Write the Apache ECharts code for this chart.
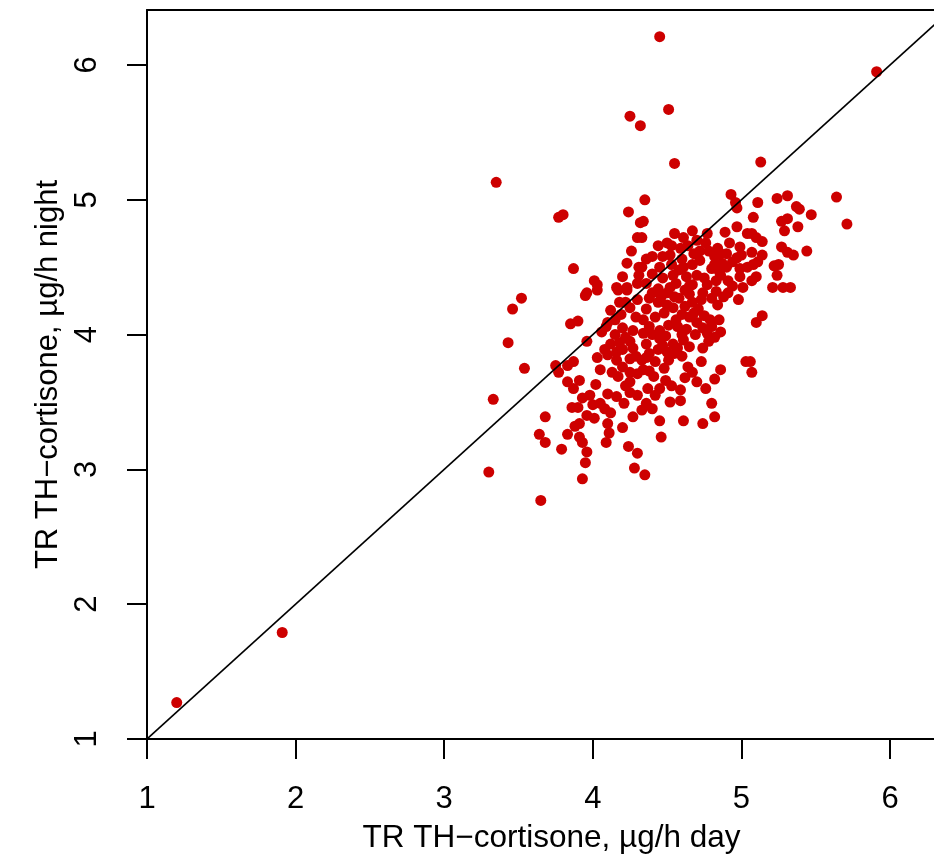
<!DOCTYPE html>
<html lang="en" style="height: 100%">

<head>
  <meta charset="utf-8" />
  <script src="https://cdn.jsdelivr.net/npm/echarts@6/dist/echarts.min.js"></script>
</head>

<body style="height: 100%; margin: 0; background: #fff">
  <div id="container" style="width: 934px; height: 855px"></div>

  <script type="text/javascript">
    // [day, night] pairs
    var outlierPts = [
      [1.20, 1.27], [1.91, 1.79], [3.30, 2.98], [3.65, 2.77], [3.33, 3.52], [3.35, 5.13],
      [3.52, 4.27], [3.46, 4.19], [3.43, 3.94], [3.54, 3.75], [4.45, 6.21], [4.25, 5.62],
      [4.32, 5.55], [4.51, 5.67], [4.55, 5.27], [5.13, 5.28], [5.91, 5.95]
    ];
    var upperPts = [
      [3.77, 4.87], [3.80, 4.89], [4.24, 4.91], [4.32, 4.83], [4.30, 4.72], [4.26, 4.62],
      [4.23, 4.53], [3.87, 4.49], [4.31, 4.50], [4.01, 4.40], [4.03, 4.37], [4.16, 4.35],
      [4.23, 4.35], [4.30, 4.38], [3.96, 4.31],
      [4.35, 5.00], [4.93, 5.04], [4.97, 4.94], [4.96, 4.98], [4.34, 4.84], [4.67, 4.77],
      [4.61, 4.72], [4.77, 4.75], [4.89, 4.76], [4.97, 4.80], [5.04, 4.75], [4.33, 4.72],
      [4.53, 4.66], [4.59, 4.64], [4.72, 4.62], [4.84, 4.64], [4.92, 4.68], [4.99, 4.65],
      [4.47, 4.58], [4.52, 4.59], [4.33, 4.50], [4.45, 4.50], [4.61, 4.50], [4.67, 4.52],
      [4.80, 4.49], [4.87, 4.53], [4.94, 4.54], [5.04, 4.50], [4.54, 4.44], [4.63, 4.43],
      [4.70, 4.44], [4.75, 4.42], [4.86, 4.44], [4.91, 4.40], [4.99, 4.43], [4.36, 4.38],
      [4.52, 4.35], [4.67, 4.37], [4.77, 4.37], [5.01, 4.35]
    ];
    var rightPts = [
      [5.11, 4.98], [5.24, 5.01], [5.31, 5.03], [5.64, 5.02], [5.37, 4.95], [5.39, 4.93],
      [5.47, 4.89], [5.08, 4.87], [5.27, 4.84], [5.31, 4.86], [5.71, 4.82], [5.29, 4.77],
      [5.38, 4.80], [5.07, 4.75], [5.10, 4.72], [5.14, 4.69], [5.27, 4.65], [5.31, 4.61],
      [5.35, 4.59], [5.44, 4.62], [5.14, 4.59], [5.07, 4.61], [5.08, 4.52], [5.11, 4.54],
      [5.22, 4.51], [5.25, 4.52], [5.24, 4.44], [5.10, 4.43], [5.07, 4.40], [5.21, 4.35],
      [5.28, 4.35], [5.33, 4.35], [5.14, 4.14], [5.10, 4.09], [5.07, 3.72], [5.06, 3.80]
    ];
    var leftPts = [
      [3.95, 4.29], [4.03, 4.33], [4.17, 4.33], [4.23, 4.33], [3.85, 4.08], [3.90, 4.10],
      [3.96, 3.95], [4.10, 4.09], [4.15, 4.11], [4.20, 4.05], [4.09, 4.06], [4.22, 4.24],
      [4.25, 4.20], [4.30, 4.26], [4.19, 4.15], [4.27, 4.03], [4.18, 3.94], [4.25, 3.95],
      [4.08, 3.89], [4.10, 3.85], [4.16, 3.87], [4.20, 3.89], [4.27, 3.90], [4.16, 3.81],
      [4.25, 3.82], [4.20, 3.76], [4.05, 3.74], [4.13, 3.72], [4.17, 3.69], [4.25, 3.72],
      [4.30, 3.71], [4.25, 3.65], [3.75, 3.77], [3.77, 3.72], [3.83, 3.77], [3.87, 3.80],
      [3.83, 3.65], [3.87, 3.60], [3.91, 3.66], [4.02, 3.63], [4.10, 3.56], [4.16, 3.54],
      [4.25, 3.57]
    ];
    var lowerPts = [
      [3.86, 3.46], [3.90, 3.46], [4.00, 3.48], [4.05, 3.49], [4.21, 3.49], [3.68, 3.39],
      [3.96, 3.40], [4.01, 3.38], [3.88, 3.32], [3.91, 3.34], [4.10, 3.34], [4.27, 3.39],
      [3.64, 3.26], [3.68, 3.20], [3.83, 3.26], [3.91, 3.24], [3.93, 3.20], [4.11, 3.27],
      [4.09, 3.20], [4.20, 3.31], [3.79, 3.15], [3.96, 3.13], [3.95, 3.05], [4.24, 3.17],
      [4.30, 3.12], [4.28, 3.01], [3.93, 2.93],
      [4.36, 3.49], [4.33, 3.44], [4.45, 3.36], [4.61, 3.36], [4.74, 3.34], [4.82, 3.39],
      [4.80, 3.49], [4.46, 3.24], [4.35, 2.96], [4.59, 3.51]
    ];
    var corePts = [
      [5.03, 3.80], [4.86, 3.74], [4.82, 3.67], [4.76, 3.60], [4.73, 3.80], [4.67, 3.72],
      [4.64, 3.76], [4.59, 3.59], [4.49, 3.66], [4.45, 3.60], [4.37, 3.60], [4.34, 3.74],
      [4.38, 3.73], [4.33, 3.81], [4.42, 3.80], [4.51, 3.81], [4.74, 3.90], [4.65, 3.91],
      [4.61, 3.96], [4.54, 3.93], [4.44, 3.89], [4.36, 3.93], [4.34, 4.01], [4.40, 4.00],
      [4.45, 4.03], [4.51, 4.07], [4.57, 4.06], [4.63, 4.04], [4.69, 4.00], [4.77, 4.01],
      [4.86, 4.02], [4.80, 4.06], [4.79, 4.11], [4.84, 4.22], [4.85, 4.11], [4.65, 4.13],
      [4.60, 4.15], [4.54, 4.20], [4.67, 4.24], [4.71, 4.19], [4.34, 4.11], [4.36, 4.19],
      [4.42, 4.13], [4.50, 4.22], [4.40, 4.31], [4.50, 4.31], [4.65, 4.30], [4.74, 4.31],
      [4.83, 4.32], [4.91, 4.31], [4.98, 4.26], [4.70, 4.09], [4.45, 3.97],
      [4.38, 4.27], [4.44, 4.24], [4.48, 4.16], [4.56, 4.11], [4.58, 4.27], [4.62, 4.21],
      [4.68, 4.16], [4.75, 4.14], [4.73, 4.26], [4.80, 4.27], [4.88, 4.28], [4.94, 4.36],
      [4.56, 4.38], [4.47, 4.42], [4.40, 4.45], [4.60, 4.56], [4.72, 4.55], [4.82, 4.58],
      [4.90, 4.60], [4.97, 4.57], [4.76, 4.68], [4.70, 4.70], [4.55, 4.75], [4.44, 4.66],
      [4.38, 4.06], [4.49, 3.99], [4.55, 3.86], [4.60, 3.84], [4.48, 3.75], [4.41, 3.69],
      [4.70, 3.65], [4.29, 3.84], [4.38, 3.86], [4.65, 4.36], [4.83, 4.40], [4.44, 4.34],
      [4.29, 4.13], [4.31, 4.44], [4.20, 4.43], [4.15, 4.00], [3.93, 3.53], [4.12, 3.42],
      [4.40, 3.45], [4.52, 3.50], [4.85, 4.47], [4.99, 4.49], [5.00, 4.59], [4.53, 4.52]
    ];
    var extraPts = [
      [4.12, 4.18], [4.06, 4.02], [4.22, 3.98], [4.12, 3.93], [4.03, 3.83], [4.22, 3.62],
      [4.30, 3.55], [4.08, 3.45], [3.98, 3.55], [4.42, 3.55], [4.53, 3.62], [4.62, 3.68],
      [4.57, 3.90], [4.47, 3.92], [4.60, 4.00], [4.74, 4.05], [4.55, 4.28], [4.62, 4.33],
      [4.46, 4.28], [4.58, 4.48], [4.68, 4.60], [4.78, 4.62], [4.86, 4.60], [4.40, 4.58],
      [4.50, 4.68], [4.64, 4.66], [4.82, 4.52], [4.90, 4.50], [4.36, 4.56], [4.18, 4.24],
      [4.36, 3.83], [4.50, 3.87], [4.78, 3.95], [4.82, 3.98]
    ];
    var tickVals = [1, 2, 3, 4, 5, 6];
    var identityLine = [[0.5, 0.5], [7, 7]];

    var allPts = [].concat(outlierPts, upperPts, rightPts, leftPts, lowerPts, corePts, extraPts);

    var dom = document.getElementById("container");
    var myChart = echarts.init(dom, null, { renderer: "canvas" });

    var font = "'Liberation Sans', Arial, sans-serif";
    var axisLineStyle = { color: "#000", width: 2 };
    // plot region is cut off on the right, so the x range runs past 6
    var xMax = 6.296;
    var yMax = 6.408;

    var option = {
      animation: false,
      backgroundColor: "#fff",
      grid: { left: 147, top: 10, right: 0, bottom: 116, outerBoundsMode: "none" },
      xAxis: [
        {
          type: "value",
          min: 1,
          max: xMax,
          interval: 1,
          splitLine: { show: false },
          axisLine: { show: true, onZero: false, lineStyle: axisLineStyle },
          axisTick: { show: true, length: 20, customValues: tickVals, lineStyle: axisLineStyle },
          axisLabel: {
            customValues: tickVals,
            margin: 45,
            color: "#000",
            fontSize: 31,
            fontFamily: font,
          },
          name: "TR TH\u2212cortisone, \u00b5g/h day",
          nameLocation: "middle",
          nameGap: 83,
          nameTextStyle: { color: "#000", fontSize: 31.5, fontFamily: font, padding: [0, 0, 0, 22] },
        },
        {
          type: "value",
          position: "top",
          min: 1,
          max: xMax,
          axisLine: { show: true, onZero: false, lineStyle: axisLineStyle },
          axisTick: { show: false },
          axisLabel: { show: false },
          splitLine: { show: false },
        },
      ],
      yAxis: {
        type: "value",
        min: 1,
        max: yMax,
        interval: 1,
        splitLine: { show: false },
        axisLine: { show: true, onZero: false, lineStyle: axisLineStyle },
        axisTick: { show: true, length: 20, customValues: tickVals, lineStyle: axisLineStyle },
        axisLabel: {
          customValues: tickVals,
          rotate: 90,
          margin: 44,
          color: "#000",
          fontSize: 31,
          fontFamily: font,
        },
        name: "TR TH\u2212cortisone, \u00b5g/h night",
        nameLocation: "middle",
        nameGap: 80,
        nameTextStyle: { color: "#000", fontSize: 31, fontFamily: font },
      },
      series: [
        {
          type: "scatter",
          data: allPts,
          symbolSize: 11,
          itemStyle: { color: "#CD0000", opacity: 1 },
          z: 2,
        },
        {
          type: "line",
          data: identityLine,
          symbol: "none",
          clip: true,
          lineStyle: { color: "#000", width: 1.6 },
          z: 3,
        },
      ],
    };

    myChart.setOption(option);
  </script>
</body>

</html>
